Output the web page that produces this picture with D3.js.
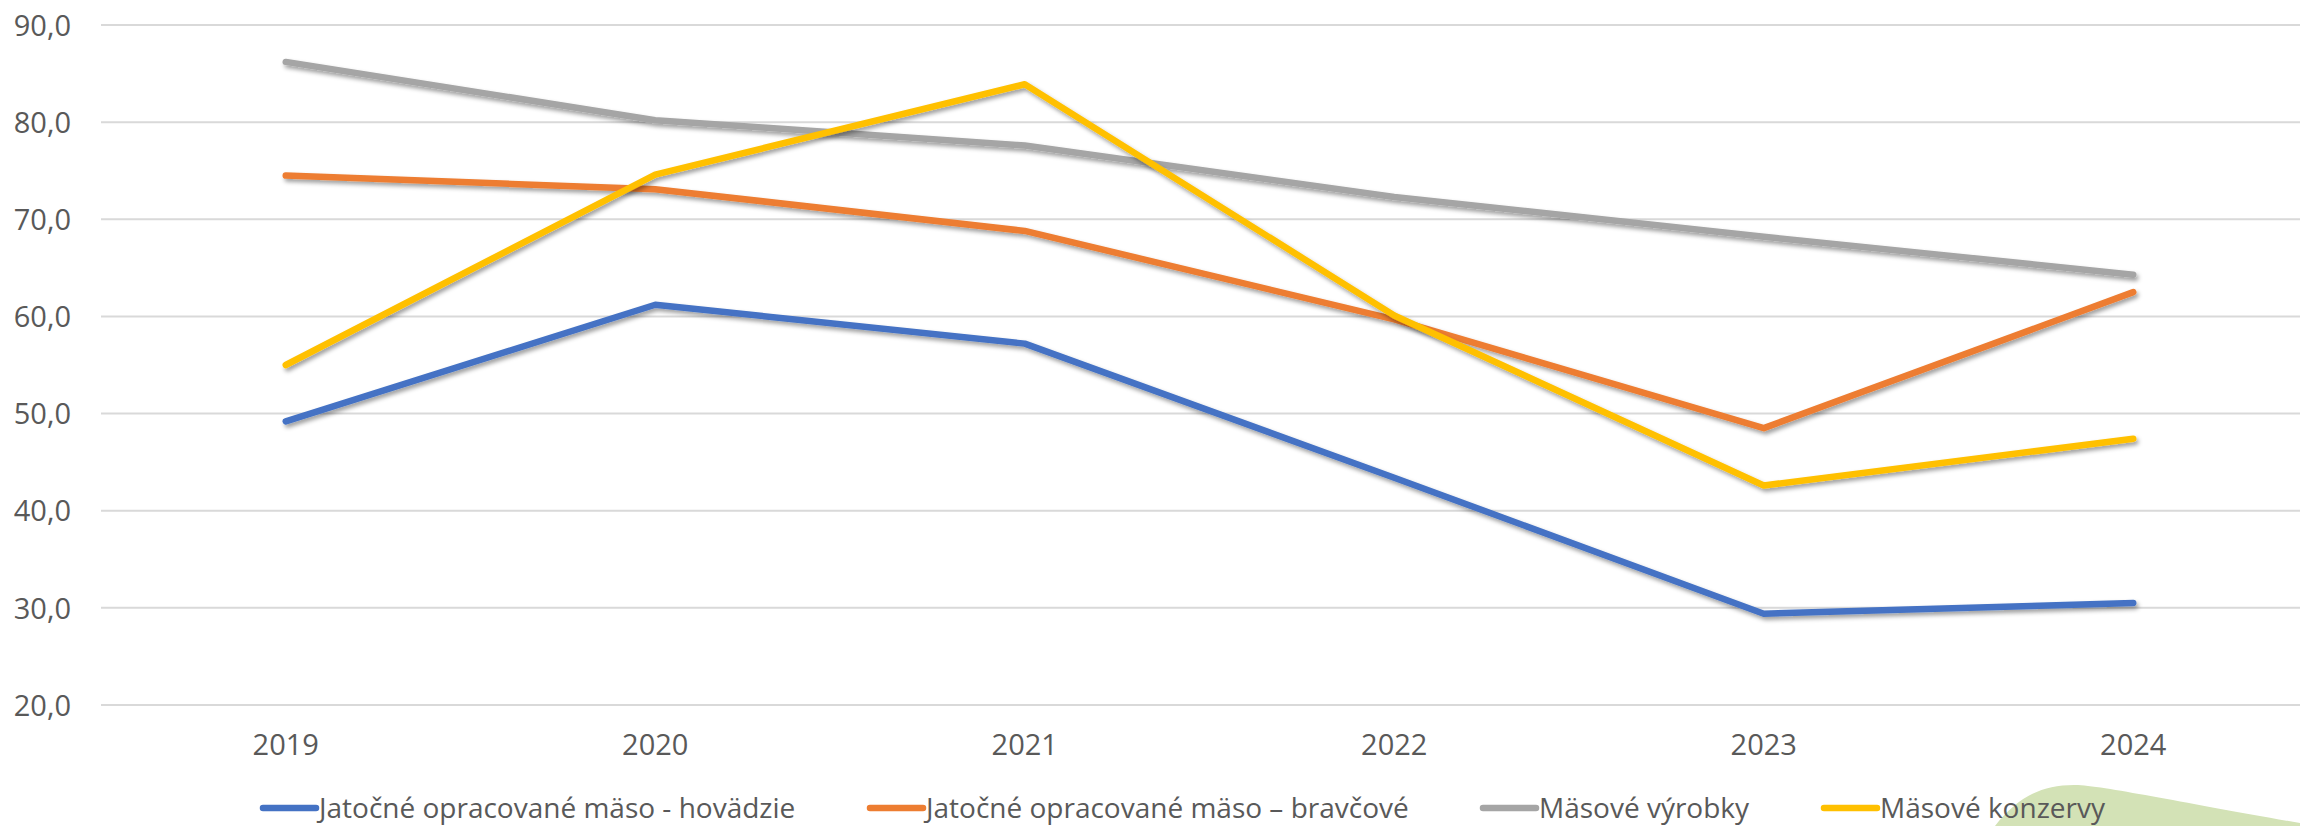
<!DOCTYPE html>
<html>
<head>
<meta charset="utf-8">
<script src="https://cdn.jsdelivr.net/npm/d3@7/dist/d3.min.js"></script>
<style>
  html, body { margin: 0; padding: 0; background: #ffffff; }
  svg { display: block; }
  text { font-family: "Open Sans", "Noto Sans", sans-serif; fill: #595959; }
</style>
</head>
<body>
<svg id="chart" width="2300" height="826"></svg>
<script>
// ---- data ----
const categories = ["2019", "2020", "2021", "2022", "2023", "2024"];
const seriesNames = [
  "Jatočné opracované mäso - hovädzie",
  "Jatočné opracované mäso – bravčové",
  "Mäsové výrobky",
  "Mäsové konzervy"
];
const hovadzie  = [49.2, 61.2, 57.2, 43.4, 29.4, 30.5];
const bravcove  = [74.5, 73.1, 68.8, 59.7, 48.5, 62.5];
const vyrobky   = [86.2, 80.2, 77.6, 72.3, 68.2, 64.3];
const konzervy  = [55.0, 74.6, 83.9, 60.1, 42.6, 47.4];
const yTicks = [20, 30, 40, 50, 60, 70, 80, 90];
const seriesColors = ["#4472C4", "#ED7D31", "#A5A5A5", "#FFC000"];

const series = [hovadzie, bravcove, vyrobky, konzervy].map((vals, i) => ({
  name: seriesNames[i], color: seriesColors[i], values: vals
}));

// ---- layout ----
const svg = d3.select("#chart");
const plotLeft = 101, plotRight = 2318, plotTop = 25, plotBottom = 705;

const x = d3.scaleBand().domain(categories).range([plotLeft, plotRight]);
const y = d3.scaleLinear().domain([20, 90]).range([plotBottom, plotTop]);

// decorative green shape (slide background) bottom right
svg.append("path")
  .attr("d", "M1995,826 C2018,797 2042,784 2078,785 C2110,787 2200,806 2300,823 L2300,826 Z")
  .attr("fill", "#D3E2B6");

// shadow filter
const defs = svg.append("defs");
const f = defs.append("filter").attr("id", "shadow")
  .attr("x", "-5%").attr("y", "-20%").attr("width", "110%").attr("height", "140%");
f.append("feDropShadow").attr("dx", 2).attr("dy", 3).attr("stdDeviation", 2.2)
  .attr("flood-color", "#000").attr("flood-opacity", 0.38);

// gridlines
svg.append("g").selectAll("line").data(yTicks).join("line")
  .attr("x1", plotLeft).attr("x2", plotRight)
  .attr("y1", d => y(d)).attr("y2", d => y(d))
  .attr("stroke", "#D9D9D9").attr("stroke-width", 2);

// y axis labels
const fmt = d => d3.format(".1f")(d).replace(".", ",");
const yAxis = d3.axisLeft(y).tickValues(yTicks).tickFormat(fmt).tickSize(0).tickPadding(0);
const yg = svg.append("g").attr("transform", "translate(71,0)").call(yAxis);
yg.select(".domain").remove();
yg.selectAll("text").attr("font-size", 29).attr("font-family", null)
  .attr("fill", "#595959").attr("dy", "0.35em");

// x axis labels
const xAxis = d3.axisBottom(x).tickSize(0).tickPadding(0);
const xg = svg.append("g").attr("transform", "translate(0,745)").call(xAxis);
xg.select(".domain").remove();
xg.selectAll("text").attr("font-size", 29).attr("font-family", null)
  .attr("fill", "#595959").attr("dy", "0.35em");

// lines
const line = d3.line()
  .x((d, i) => x(categories[i]) + x.bandwidth() / 2)
  .y(d => y(d));

svg.append("g").selectAll("path").data(series).join("path")
  .attr("d", d => line(d.values))
  .attr("fill", "none")
  .attr("stroke", d => d.color)
  .attr("stroke-width", 6.5)
  .attr("stroke-linejoin", "round")
  .attr("stroke-linecap", "round")
  .attr("filter", "url(#shadow)");

// legend
const legendStarts = [261, 868, 1481, 1822];
const legendY = 808;
const lg = svg.append("g").selectAll("g").data(series).join("g")
  .attr("transform", (d, i) => `translate(${legendStarts[i]},${legendY})`);
lg.append("line").attr("x1", 2).attr("x2", 55).attr("y1", 0).attr("y2", 0)
  .attr("stroke", d => d.color).attr("stroke-width", 6.5).attr("stroke-linecap", "round");
lg.append("text").attr("x", 58).attr("dy", "0.35em").attr("font-size", 28)
  .text(d => d.name);
</script>
</body>
</html>
